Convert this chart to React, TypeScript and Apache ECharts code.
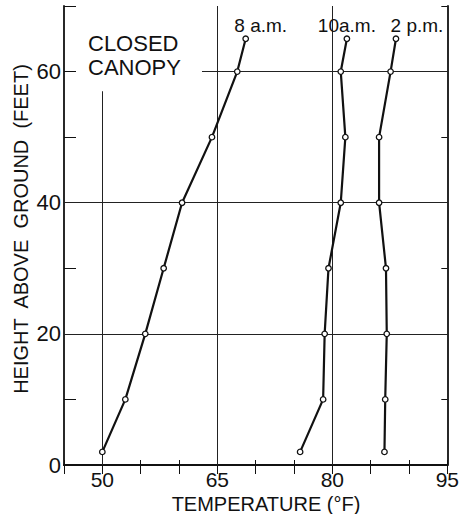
import React, { useEffect, useRef } from "react";
import * as echarts from "echarts";

const heights = [2, 10, 20, 30, 40, 50, 60, 65];
const temp8am = [50.0, 53.0, 55.6, 58.0, 60.4, 64.3, 67.6, 68.7];
const temp10am = [75.8, 78.8, 79.0, 79.5, 81.1, 81.7, 81.1, 81.9];
const temp2pm = [86.8, 86.9, 87.1, 87.0, 86.1, 86.1, 87.6, 88.3];
const seriesNames = ["8 a.m.", "10a.m.", "2 p.m."];
const labelOffsets = [15, 0, 21];
const xTickLabels = [50, 65, 80, 95];
const yTickLabels = [0, 20, 40, 60];

const FONT = "Liberation Sans";

export default function App() {
  const ref = useRef<HTMLDivElement>(null);
  useEffect(() => {
    const chart = echarts.init(ref.current!, null, { renderer: "svg" });
    const all = [temp8am, temp10am, temp2pm];
    const series: any[] = all.map((temps, si) => ({
      type: "line",
      name: seriesNames[si],
      xAxisIndex: 0,
      yAxisIndex: 0,
      symbol: "circle",
      symbolSize: 5.5,
      showAllSymbol: true,
      lineStyle: { color: "#111", width: 2.2 },
      itemStyle: { color: "#fff", borderColor: "#111", borderWidth: 1.3 },
      z: 5,
      data: temps.map((t, i) => {
        const item: any = { value: [t, heights[i]] };
        if (i === temps.length - 1) {
          item.label = {
            show: true,
            formatter: seriesNames[si],
            position: "top",
            distance: 2,
            offset: [labelOffsets[si], 2],
            fontFamily: FONT,
            fontSize: 19,
            color: "#111",
          };
        }
        return item;
      }),
    }));
    series[0].markLine = {
      silent: true,
      symbol: "none",
      animation: false,
      label: { show: false },
      lineStyle: { color: "#222", width: 1, type: "solid" },
      data: [
        { yAxis: 20 },
        { yAxis: 40 },
        [{ coord: [63, 60] }, { coord: [95, 60] }],
        [{ coord: [50, 0] }, { coord: [50, 57] }],
        { xAxis: 65 },
        { xAxis: 80 },
      ],
    };

    chart.setOption({
      animation: false,
      backgroundColor: "#fff",
      grid: { left: 64, right: 11, top: 6, bottom: 49 },
      xAxis: [
        {
          type: "value",
          position: "bottom",
          min: 45,
          max: 95,
          interval: 5,
          axisLine: { show: true, lineStyle: { color: "#111", width: 1.8 } },
          axisTick: { show: true, inside: true, length: 5, lineStyle: { color: "#111" } },
          splitLine: { show: false },
          axisLabel: {
            showMinLabel: true,
            showMaxLabel: true,
            margin: 4,
            fontFamily: FONT,
            fontSize: 21,
            lineHeight: 20,
            color: "#111",
            formatter: (v: number) => (xTickLabels.includes(v) ? String(v) : ""),
          },
        },
        {
          type: "value",
          position: "top",
          min: 45,
          max: 95,
          interval: 5,
          axisLine: { show: true, lineStyle: { color: "#111", width: 1.8 } },
          axisTick: { show: true, inside: true, length: 9, lineStyle: { color: "#111" } },
          splitLine: { show: false },
          axisLabel: { show: false },
        },
      ],
      yAxis: [
        {
          type: "value",
          position: "left",
          min: 0,
          max: 70,
          interval: 10,
          axisLine: { show: true, lineStyle: { color: "#111", width: 1.8 } },
          axisTick: { show: true, inside: true, length: 12, lineStyle: { color: "#111" } },
          splitLine: { show: false },
          axisLabel: {
            margin: 3,
            fontFamily: FONT,
            fontSize: 22,
            lineHeight: 20,
            color: "#111",
            formatter: (v: number) => (yTickLabels.includes(v) ? String(v) : ""),
          },
        },
        {
          type: "value",
          position: "right",
          min: 0,
          max: 70,
          interval: 10,
          axisLine: { show: true, lineStyle: { color: "#111", width: 1.8 } },
          axisTick: { show: true, inside: true, length: 6, lineStyle: { color: "#111" } },
          splitLine: { show: false },
          axisLabel: { show: false },
        },
      ],
      graphic: [
        {
          type: "text",
          left: 88,
          top: 31,
          z: 10,
          style: {
            text: "CLOSED\nCANOPY",
            fontFamily: FONT,
            fontSize: 22,
            lineHeight: 24,
            fill: "#111",
          },
        },
        {
          type: "text",
          x: 266,
          y: 504,
          z: 10,
          style: {
            text: "TEMPERATURE (°F)",
            fontFamily: FONT,
            fontSize: 20,
            lineHeight: 20,
            fill: "#111",
            align: "center",
            verticalAlign: "middle",
          },
        },
        {
          type: "text",
          x: 21,
          y: 229,
          rotation: Math.PI / 2,
          z: 10,
          style: {
            text: "HEIGHT  ABOVE  GROUND  (FEET)",
            fontFamily: FONT,
            fontSize: 20,
            lineHeight: 20,
            fill: "#111",
            align: "center",
            verticalAlign: "middle",
          },
        },
      ],
      series,
    });
    return () => chart.dispose();
  }, []);
  return <div ref={ref} style={{ width: 462, height: 514, position: "absolute", left: 0, top: 0 }} />;
}
